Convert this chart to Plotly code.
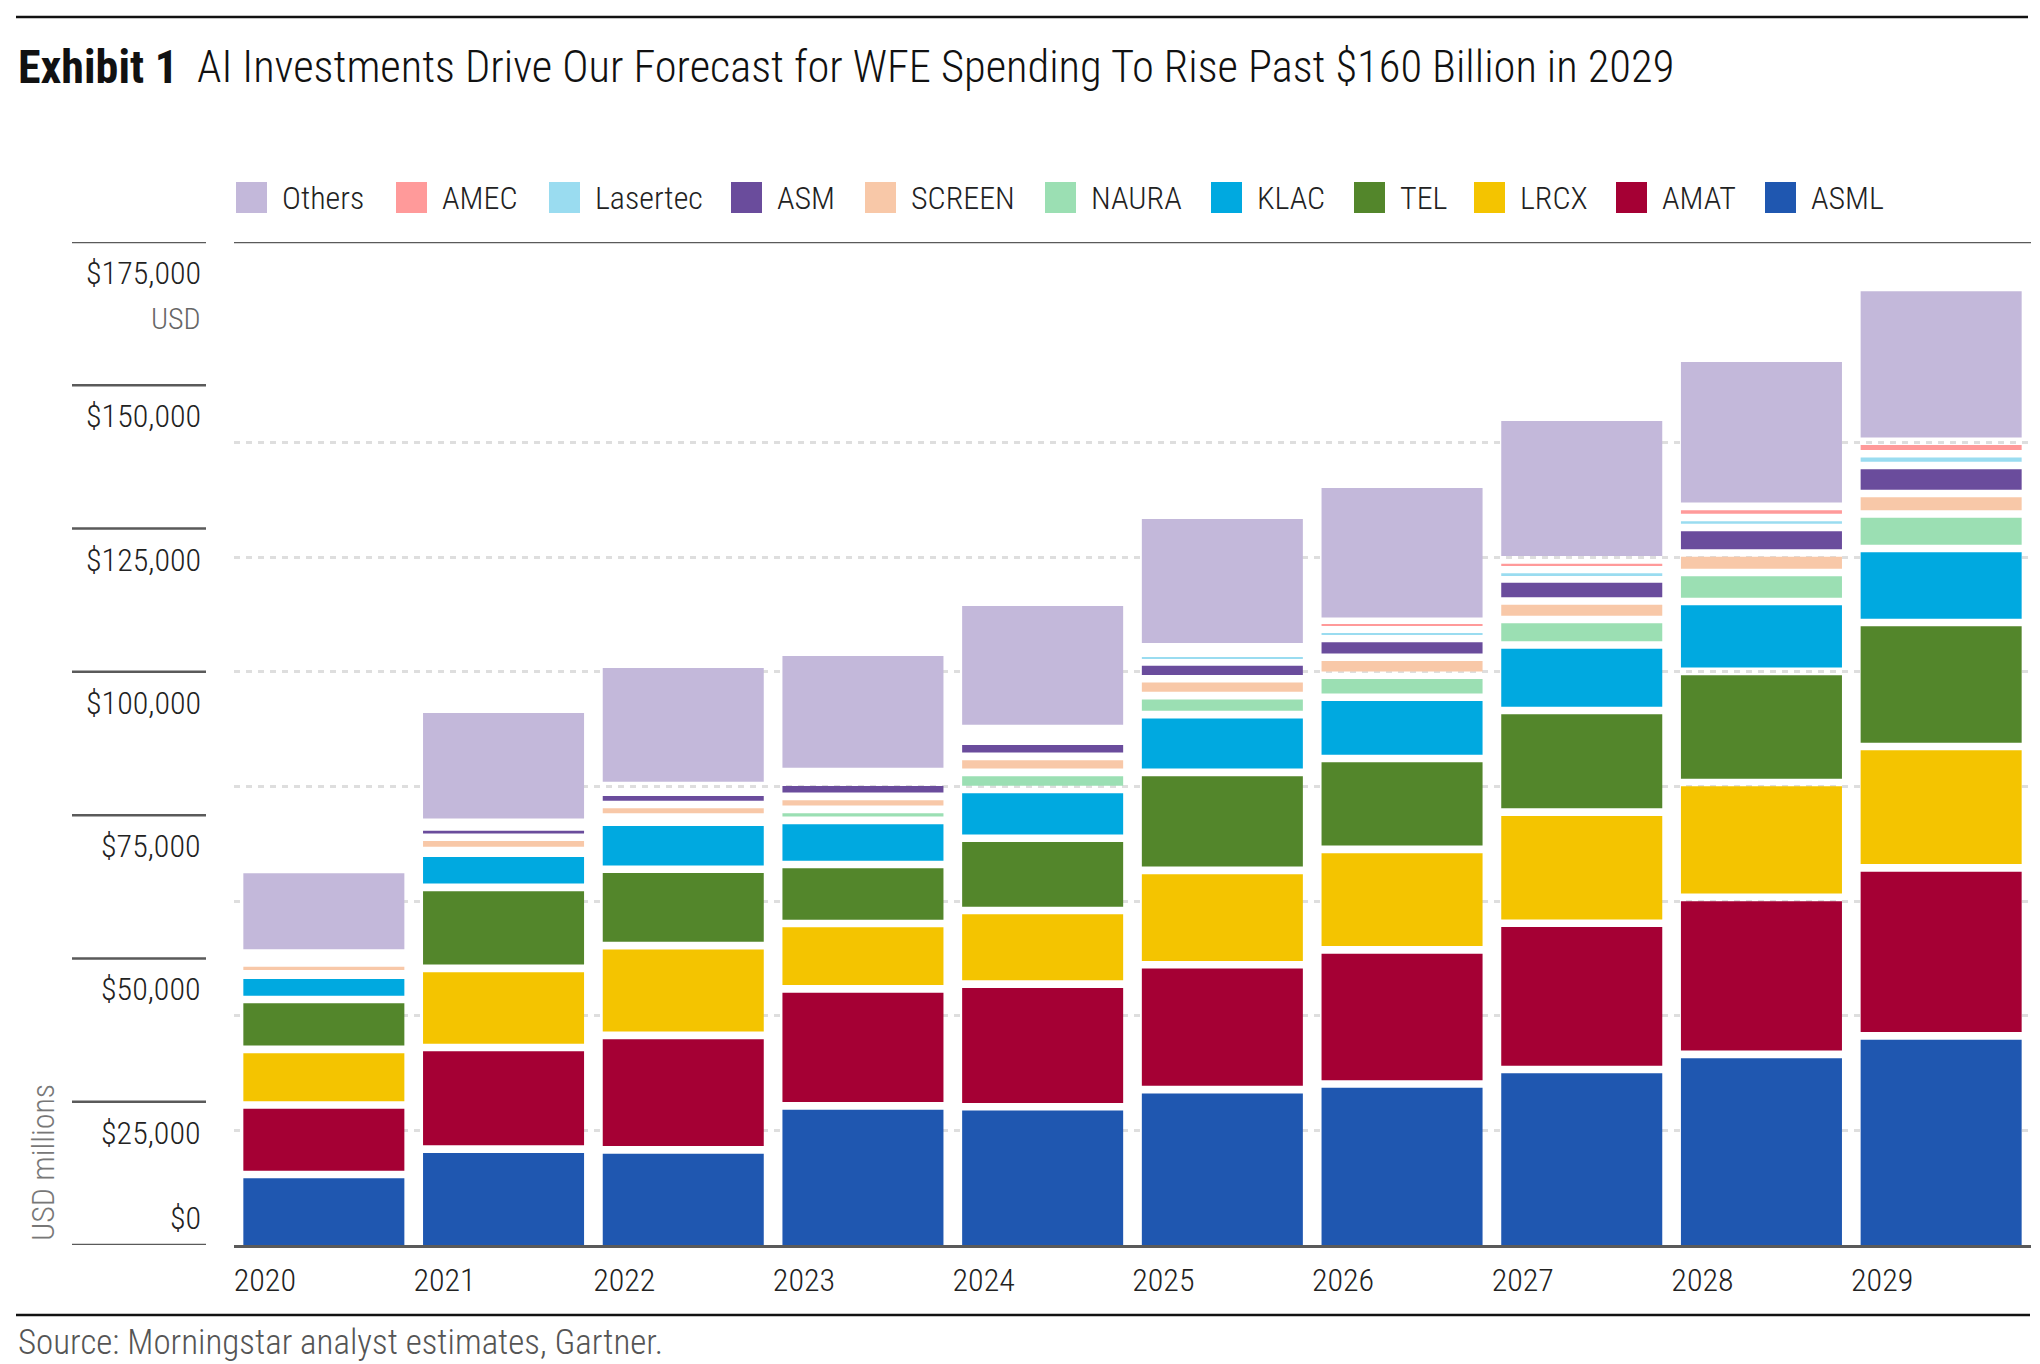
import plotly.graph_objects as go
import numpy as np

# ---------------- data (USD millions) ----------------
years = ["2020", "2021", "2022", "2023", "2024", "2025", "2026", "2027", "2028", "2029"]

ASML     = [12300, 16720, 16600, 24270, 24120, 27110, 28090, 30620, 33260, 36490]
AMAT     = [12130, 17740, 19980, 20410, 21400, 21790, 23410, 25530, 27390, 29310]
LRCX     = [9710, 13810, 15650, 11410, 12840, 16470, 17530, 19380, 20040, 21170]
TEL      = [8700, 14130, 13320, 10310, 12620, 17090, 15850, 17730, 19390, 21640]
KLAC     = [4240, 5960, 8220, 7680, 8490, 10080, 10680, 11430, 12190, 12910]
NAURA    = [240, 470, 890, 1930, 2990, 3310, 3840, 4450, 5060, 6020]
SCREEN   = [1900, 2320, 2200, 2270, 2790, 2960, 3140, 3230, 3400, 3580]
ASM      = [1050, 1800, 2150, 2470, 2640, 2910, 3310, 3840, 4450, 4890]
Lasertec = [310, 450, 650, 1000, 1200, 1500, 1570, 1660, 1740, 2040]
AMEC     = [350, 370, 520, 870, 1020, 1150, 1420, 1670, 1950, 2190]
Others   = [13920, 19050, 20500, 20150, 21370, 22300, 23240, 24230, 25190, 26150]

y_tick_values = [0, 25000, 50000, 75000, 100000, 125000, 150000, 175000]
y_tick_labels = ["$0", "$25,000", "$50,000", "$75,000", "$100,000", "$125,000", "$150,000", "$175,000"]
grid_values = [0, 20000, 40000, 60000, 80000, 100000, 120000, 140000]

# stacking order bottom -> top
stack = [
    ("ASML", ASML, "#1F57B0"),
    ("AMAT", AMAT, "#A50034"),
    ("LRCX", LRCX, "#F4C400"),
    ("TEL", TEL, "#53862B"),
    ("KLAC", KLAC, "#00A9E0"),
    ("NAURA", NAURA, "#9BDFB3"),
    ("SCREEN", SCREEN, "#F8C8A8"),
    ("ASM", ASM, "#6A4C9C"),
    ("Lasertec", Lasertec, "#9ADCF0"),
    ("AMEC", AMEC, "#FF9A9A"),
    ("Others", Others, "#C3B8DA"),
]

# ---------------- layout constants ----------------
W, H = 2040, 1364
L, R, T, B = 234, 9, 242, 119
PW, PH = W - L - R, H - T - B
Y_MAX = 175000
FONT = "Roboto Condensed, Liberation Sans Narrow, DejaVu Sans Condensed, sans-serif"
TXT = "#222222"
LW = 300  # light weight for body text


def px_x(px):
    return (px - L) / PW


def px_y(py):
    return (H - B - py) / PH


GAP = 7.6 * Y_MAX / PH  # white gap between stacked segments, in data units

fig = go.Figure()
cum = np.zeros(len(years))
for i, (name, vals, color) in enumerate(stack):
    v = np.array(vals, dtype=float)
    lo = cum + (GAP / 2 if i > 0 else 0)
    hi = cum + v - (GAP / 2 if i < len(stack) - 1 else 0)
    h = np.clip(hi - lo, 0, None)
    fig.add_trace(go.Bar(
        x=years, y=h, base=lo, name=name,
        marker=dict(color=color, line=dict(width=0)),
        customdata=v, hovertemplate=name + " %{x}: $%{customdata:,.0f}M<extra></extra>",
        showlegend=False,
    ))
    cum += v

shapes = []
annotations = []

# rules
shapes.append(dict(type="line", xref="paper", yref="paper", x0=px_x(16), x1=px_x(2028),
                   y0=px_y(17), y1=px_y(17), line=dict(color="#111", width=2.5)))
shapes.append(dict(type="line", xref="paper", yref="paper", x0=px_x(16), x1=px_x(2030),
                   y0=px_y(1315), y1=px_y(1315), line=dict(color="#111", width=2.5)))
shapes.append(dict(type="line", xref="paper", yref="y", x0=0, x1=1,
                   y0=Y_MAX, y1=Y_MAX, line=dict(color="#5a5a5a", width=2.5)))

# left value scale
for val, lab in zip(y_tick_values, y_tick_labels):
    shapes.append(dict(type="line", xref="paper", yref="y", x0=px_x(72), x1=px_x(206),
                       y0=val, y1=val, line=dict(color="#5a5a5a", width=2.5)))
    annotations.append(dict(text=lab, xref="paper", yref="y", x=px_x(203), y=val,
                            xanchor="right", yanchor="middle", yshift=(27 if val == 0 else -31),
                            showarrow=False, font=dict(size=32, color=TXT, weight=LW)))
annotations.append(dict(text="USD", xref="paper", yref="paper", x=px_x(203), y=px_y(319),
                        xanchor="right", yanchor="middle", showarrow=False,
                        font=dict(size=30, color="#666", weight=LW)))
annotations.append(dict(text="USD millions", xref="paper", yref="paper", x=px_x(43), y=px_y(1163),
                        xanchor="center", yanchor="middle", textangle=-90, showarrow=False,
                        font=dict(size=32, color="#777", weight=LW)))

# title
annotations.append(dict(text="<b>Exhibit 1</b>", xref="paper", yref="paper", x=px_x(16), y=px_y(67),
                        xanchor="left", yanchor="middle", showarrow=False,
                        font=dict(size=46, color="#111")))
annotations.append(dict(text="AI Investments Drive Our Forecast for WFE Spending To Rise Past $160 Billion in 2029",
                        xref="paper", yref="paper", x=px_x(195), y=px_y(67),
                        xanchor="left", yanchor="middle", showarrow=False,
                        font=dict(size=44.5, color="#111", weight=LW)))

# source
annotations.append(dict(text="Source: Morningstar analyst estimates, Gartner.", xref="paper", yref="paper",
                        x=px_x(16), y=px_y(1342), xanchor="left", yanchor="middle", showarrow=False,
                        font=dict(size=35, color="#555", weight=LW)))

# custom legend
legend_items = ["Others", "AMEC", "Lasertec", "ASM", "SCREEN", "NAURA", "KLAC", "TEL", "LRCX", "AMAT", "ASML"]
legend_left = [236, 396, 549, 731, 865, 1045, 1211, 1354, 1474, 1616, 1765]
color_of = {n: c for n, _, c in stack}
for name, lx in zip(legend_items, legend_left):
    shapes.append(dict(type="rect", xref="paper", yref="paper", x0=px_x(lx), x1=px_x(lx + 31),
                       y0=px_y(213), y1=px_y(182), fillcolor=color_of[name], line=dict(width=0)))
    annotations.append(dict(text=name, xref="paper", yref="paper", x=px_x(lx + 44), y=px_y(198),
                            xanchor="left", yanchor="middle", showarrow=False,
                            font=dict(size=32, color=TXT, weight=LW)))

fig.update_layout(
    width=W, height=H,
    margin=dict(l=L, r=R, t=T, b=B, autoexpand=False),
    barmode="overlay", bargap=0.104,
    plot_bgcolor="white", paper_bgcolor="white",
    font=dict(family=FONT, size=32, color=TXT),
    shapes=shapes, annotations=annotations,
    showlegend=False,
)
fig.update_xaxes(type="category", range=[-0.5, 9.5], showline=True, linecolor="#5a5a5a", linewidth=2.5,
                 ticks="", showgrid=False, tickfont=dict(size=32, color=TXT, weight=LW),
                 ticklabelshift=-59, ticklabelstandoff=5)
fig.update_yaxes(range=[0, Y_MAX], tickmode="array", tickvals=grid_values, showticklabels=False,
                 showgrid=True, gridcolor="#dedede", gridwidth=3, griddash="6px,6px",
                 zeroline=False, showline=False, ticks="")

fig.write_html("out.html")
